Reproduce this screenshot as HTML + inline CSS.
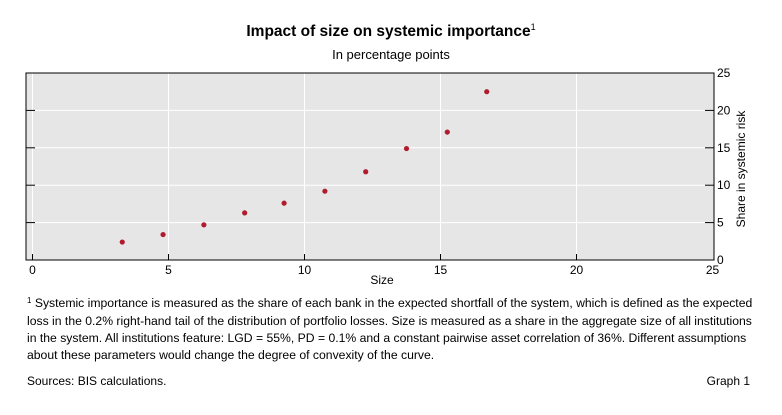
<!DOCTYPE html>
<html><head><meta charset="utf-8"><style>
body{margin:0;background:#fff;}
svg{display:block;font-family:"Liberation Sans",Arial,sans-serif;}
</style></head><body>
<svg id="chart" width="782" height="415" xmlns="http://www.w3.org/2000/svg">
<text x="391" y="36" text-anchor="middle" font-size="15.5" font-weight="bold">Impact of size on systemic importance<tspan font-size="9" dy="-6" font-weight="normal">1</tspan></text>
<text x="391" y="59" text-anchor="middle" font-size="13">In percentage points</text>
<rect x="26" y="73" width="688" height="187" fill="#e6e6e6"/>
<g id="grid"></g>
<g id="marks"></g>
<rect x="26" y="73" width="688" height="187" fill="none" stroke="#000" stroke-width="1"/>
<g id="axes" font-size="12"></g>
<text x="382" y="284" text-anchor="middle" font-size="12">Size</text>
<text transform="translate(745,169) rotate(-90)" text-anchor="middle" font-size="12">Share in systemic risk</text>
<g font-size="12.2">
<text x="27" y="307"><tspan font-size="8" dy="-4">1</tspan><tspan dy="4">  Systemic importance is measured as the share of each bank in the expected shortfall of the system, which is defined as the expected</tspan></text>
<text x="27" y="325">loss in the 0.2% right-hand tail of the distribution of portfolio losses. Size is measured as a share in the aggregate size of all institutions</text>
<text x="27" y="342">in the system. All institutions feature: LGD = 55%, PD = 0.1% and a constant pairwise asset correlation of 36%. Different assumptions</text>
<text x="27" y="359">about these parameters would change the degree of convexity of the curve.</text>
</g>
<text x="27" y="385" font-size="12">Sources: BIS calculations.</text>
<text x="750" y="385" text-anchor="end" font-size="12">Graph 1</text>
</svg>
<script>
const sizes=[3.3,4.8,6.3,7.8,9.25,10.75,12.25,13.75,15.25,16.7];
const shares=[2.4,3.4,4.7,6.3,7.6,9.2,11.8,14.9,17.1,22.5];
const xTicks=[0,5,10,15,20,25];
const yTicks=[0,5,10,15,20,25];
const NS="http://www.w3.org/2000/svg";
function xs(v){return 32.5+v*27.2;}
function ys(v){return 260-v*7.48;}
function mk(tag,attrs,parent){const e=document.createElementNS(NS,tag);for(const k in attrs)e.setAttribute(k,attrs[k]);document.getElementById(parent).appendChild(e);return e;}
xTicks.forEach(t=>{
 if(t<25){const g=mk('line',{x1:xs(t),x2:xs(t),y1:73,y2:260,stroke:'#fff','stroke-width':1},'grid');
 
 
 const tk=mk('line',{x1:xs(t),x2:xs(t),y1:254,y2:260,stroke:'#000'},'axes');
 
 }
 const l=mk('text',{x:xs(t),y:274,'text-anchor':'middle'},'axes');l.textContent=t;
 
 
});
yTicks.forEach(t=>{
 if(t>0&&t<25){const g=mk('line',{x1:26,x2:714,y1:ys(t),y2:ys(t),stroke:'#fff','stroke-width':1},'grid');
 
 
 const a=mk('line',{x1:26,x2:35,y1:ys(t),y2:ys(t),stroke:'#000'},'axes');
 
 
 const b=mk('line',{x1:705,x2:714,y1:ys(t),y2:ys(t),stroke:'#000'},'axes');
 
 }
 const l=mk('text',{x:717,y:ys(t)+4},'axes');l.textContent=t;
 
 
});
sizes.forEach((s,i)=>{
 const c=mk('circle',{cx:xs(s),cy:ys(shares[i]),r:2.6,fill:'#b01c2e'},'marks');
 
 
});
</script>
</body></html>
